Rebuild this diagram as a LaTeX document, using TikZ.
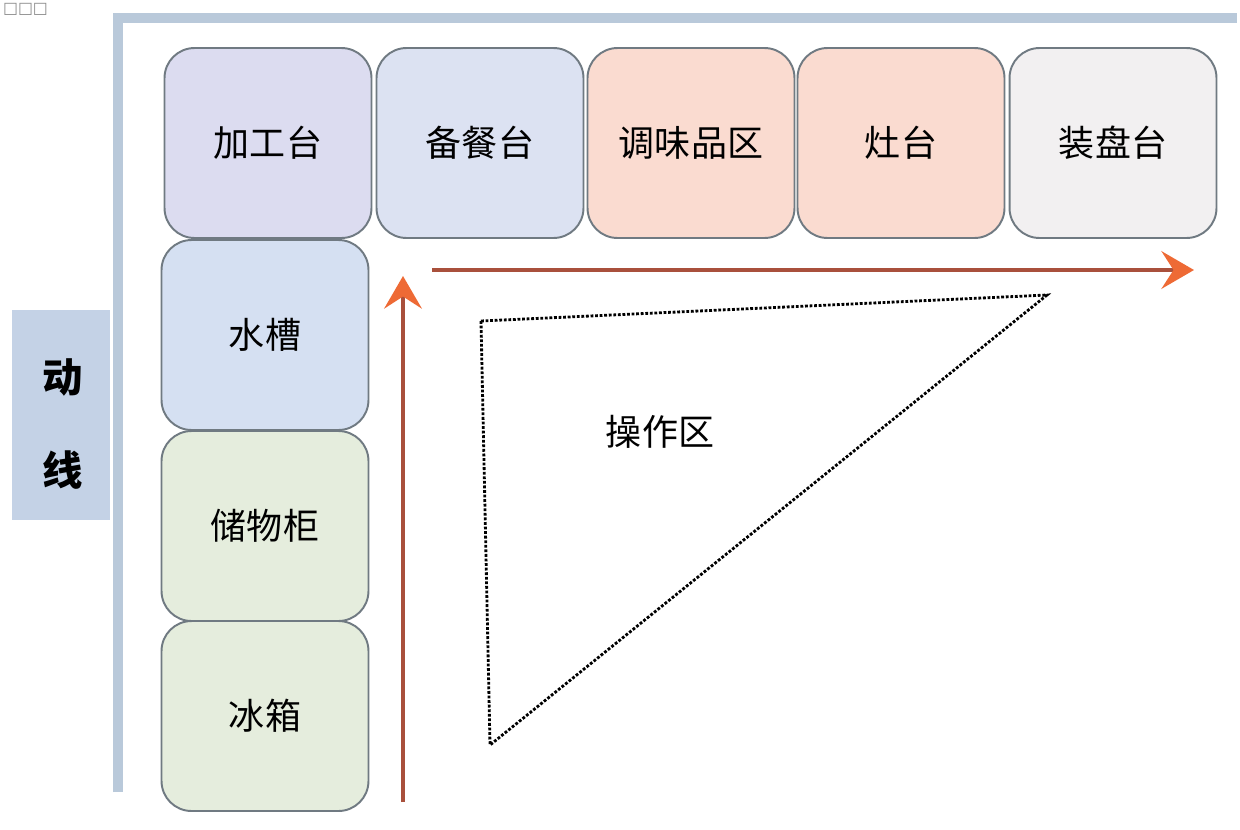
\documentclass[tikz,border=0pt]{standalone}
\usepackage{fontspec}
\setmainfont{Noto Sans CJK SC}
\newfontfamily\symfont{DejaVu Sans}
\usepackage{tikz}
\usetikzlibrary{arrows.meta,positioning,calc}
\definecolor{cframe}{HTML}{B9C9DA}
\definecolor{cedge}{HTML}{707A82}
\definecolor{clabel}{HTML}{C4D2E6}
\definecolor{clav}{HTML}{DCDCF0}
\definecolor{cpale}{HTML}{DCE2F2}
\definecolor{cpeach}{HTML}{FADBD0}
\definecolor{cgrey}{HTML}{F2F0F1}
\definecolor{cblue}{HTML}{D5E0F2}
\definecolor{cgreen}{HTML}{E5EDDD}
\definecolor{cshaft}{HTML}{A9503C}
\definecolor{corange}{HTML}{EE6A35}

\begin{document}
\begin{tikzpicture}[
  x=0.02cm, y=-0.02cm,
  font=\fontsize{20.5}{22}\selectfont,
  box/.style={draw=cedge, line width=1.1pt, rounded corners=0.6cm, align=center,
    minimum width=4.14cm, minimum height=3.8cm, inner sep=0pt},
  arr/.style={line width=2.6pt, cshaft,
    -{Stealth[length=6.5mm, width=7.5mm, inset=2.4mm, color=corange]}},
  frame/.style={line width=5.5pt, cframe},
]
\fill[white] (0,0) rectangle (1240,829);
\useasboundingbox (0,0) rectangle (1240,829);
\node[anchor=north west, inner sep=1pt, text=black!45, font=\symfont\fontsize{9}{9}\selectfont] (tofu) at (1,1) {□□□};

% frame of the walking line
\draw[frame] (118,792) -- (118,18) -- (1237,18);
\node[fill=clabel, minimum width=1.96cm, minimum height=4.2cm, inner sep=0pt] (dongxian) at (61,415) {};
\node[font=\fontsize{23}{24}\selectfont\bfseries] (dong) at (63,377) {动};
\node[font=\fontsize{23}{24}\selectfont\bfseries] (xian) at (63,470) {线};

% counter along the top
\node[box, fill=clav]  (jiagong)  at (268,143) {加工台};
\node[box, fill=cpale] (beican)   at (480,143) {备餐台};
\node[box, fill=cpeach](tiaowei)  at (691,143) {调味品区};
\node[box, fill=cpeach](zaotai)   at (901,143) {灶台};
\node[box, fill=cgrey] (zhuangpan) at (1113,143) {装盘台};

% counter along the left
\node[box, fill=cblue]  (shuicao)   at (265,335) {水槽};
\node[box, fill=cgreen] (chuwugui)  at (265,526) {储物柜};
\node[box, fill=cgreen] (bingxiang) at (265,716) {冰箱};

% working area
\coordinate (ta) at (481,321);
\coordinate (tb) at (1047,295);
\coordinate (tc) at (490,745);
\draw[densely dotted, line width=1.6pt] (ta) -- (tb) -- (tc) -- cycle;
\node (caozuo) at (660,432) {操作区};

% flow arrows
\coordinate (upstart) at (403,802);
\coordinate (upend) at (403,276);
\coordinate (rstart) at (432,270);
\coordinate (rend) at (1194,270);
\draw[arr] (upstart) -- (upend);
\draw[arr] (rstart) -- (rend);
\end{tikzpicture}
\end{document}
